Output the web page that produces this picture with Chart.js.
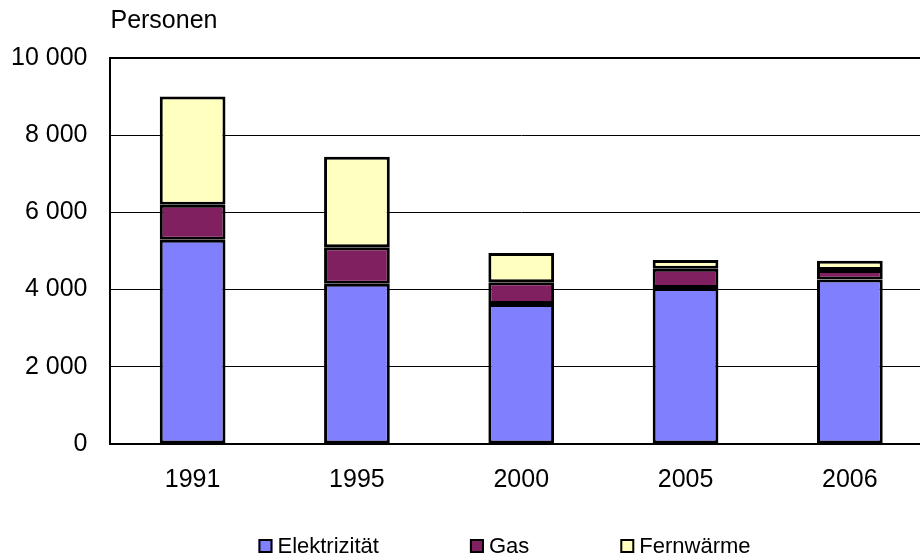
<!DOCTYPE html>
<html>
<head>
<meta charset="utf-8">
<script src="https://cdn.jsdelivr.net/npm/chart.js@4.4.1/dist/chart.umd.min.js"></script>
<style>
  html, body { margin: 0; padding: 0; background: #fff; overflow: hidden; }
  #box { width: 932px; height: 560px; }
</style>
</head>
<body>
<div id="box"><canvas id="grafico"></canvas></div>
<script>
const jahre = ['1991', '1995', '2000', '2005', '2006'];
const elektrizitaet = [5290, 4150, 3630, 4040, 4260];
const gas = [910, 950, 560, 500, 250];
const fernwaerme = [2800, 2340, 760, 230, 240];

const schrift = "'Liberation Sans', Arial, sans-serif";

function formatZahl(v) {
  return String(v).replace(/\B(?=(\d{3})+(?!\d))/g, ' ');
}

function serie(label, data, farbe) {
  return {
    label: label,
    data: data,
    backgroundColor: farbe,
    borderColor: '#000',
    borderWidth: 3,
    borderSkipped: false,
    barPercentage: 0.4,
    categoryPercentage: 1
  };
}

// Legende selbst zeichnen, damit die Abstände wie im Original sind
const legendePlugin = {
  id: 'legende',
  afterDraw(chart) {
    const c = chart.ctx;
    const area = chart.chartArea;
    const y = area.bottom + 102;
    let x = area.left + 148;
    c.save();
    c.font = '22px ' + schrift;
    c.textBaseline = 'middle';
    chart.data.datasets.forEach(ds => {
      c.fillStyle = ds.backgroundColor;
      c.fillRect(x, y - 7, 14, 14);
      c.strokeStyle = '#000';
      c.lineWidth = 2;
      c.strokeRect(x + 1, y - 6, 12, 12);
      c.fillStyle = '#000';
      c.fillText(ds.label, x + 19, y + 1);
      x += 19 + c.measureText(ds.label).width + 91;
    });
    c.restore();
  }
};

const ctx = document.getElementById('grafico').getContext('2d');

new Chart(ctx, {
  type: 'bar',
  data: {
    labels: jahre,
    datasets: [
      serie('Elektrizität', elektrizitaet, '#8080FF'),
      serie('Gas', gas, '#802060'),
      serie('Fernwärme', fernwaerme, '#FFFFC0')
    ]
  },
  plugins: [legendePlugin],
  options: {
    responsive: true,
    maintainAspectRatio: false,
    animation: false,
    layout: { padding: { left: -12, right: 0, top: 6, bottom: 44 } },
    plugins: {
      tooltip: { enabled: false },
      legend: { display: false },
      title: {
        display: true,
        text: 'Personen',
        align: 'start',
        fullSize: false,
        color: '#000',
        font: { family: schrift, size: 25, weight: 'normal' },
        padding: { top: 0, bottom: 22 }
      }
    },
    scales: {
      x: {
        stacked: true,
        grid: { display: false, drawTicks: false },
        border: { color: '#000', width: 2 },
        ticks: {
          color: '#000',
          font: { family: schrift, size: 25 },
          padding: 21
        }
      },
      y: {
        stacked: true,
        min: 0,
        max: 10000,
        grid: {
          color: '#000',
          lineWidth: c => (c.tick && c.tick.value === 10000 ? 2 : 1),
          drawTicks: false
        },
        border: { color: '#000', width: 2 },
        ticks: {
          stepSize: 2000,
          color: '#000',
          font: { family: schrift, size: 25 },
          padding: 23,
          callback: v => formatZahl(v)
        }
      }
    }
  }
});
</script>
</body>
</html>
